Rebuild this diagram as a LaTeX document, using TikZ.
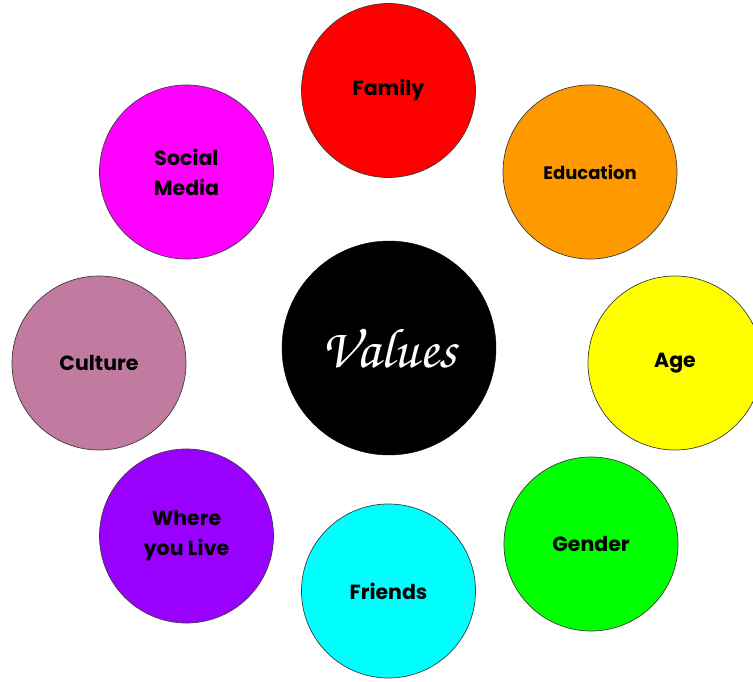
\documentclass[tikz,border=0pt]{standalone}
\usepackage{fontspec}
\setmainfont{Poppins}[BoldFont={* Bold}]
\newfontfamily\lbl{Poppins}[UprightFont={* Bold}]
\definecolor{cFamily}{HTML}{FF0000}
\definecolor{cEdu}{HTML}{FF9900}
\definecolor{cAge}{HTML}{FFFF00}
\definecolor{cGender}{HTML}{00FF00}
\definecolor{cFriends}{HTML}{00FFFF}
\definecolor{cWhere}{HTML}{9900FF}
\definecolor{cCulture}{HTML}{C27BA0}
\definecolor{cSocial}{HTML}{FF00FF}
\definecolor{rim}{HTML}{3C3C3C}
\tikzset{
  bubble/.style={circle, draw=rim, line width=0.7pt, minimum size=174pt, inner sep=0pt,
    align=center, font=\lbl\fontsize{20.5}{30}\selectfont, text=black},
  core/.style={circle, fill=black, draw=black, minimum size=214pt, inner sep=0pt,
    text=white, font=\fontencoding{OT1}\fontfamily{pzc}\fontseries{mb}\fontshape{it}\fontsize{56}{56}\selectfont}
}
\begin{document}
\begin{tikzpicture}[x=1pt,y=-1pt]
\useasboundingbox (0,0) rectangle (753,682);
\node[core] (values) at (389,348) {Values};
\node[bubble, fill=cFamily] (family) at (388.5,90.5) {Family};
\node[bubble, fill=cEdu, font=\lbl\fontsize{18}{22}\selectfont] (edu) at (590,172) {Education};
\node[bubble, fill=cAge] (age) at (675,363) {Age};
\node[bubble, fill=cGender] (gender) at (591,544) {Gender};
\node[bubble, fill=cFriends] (friends) at (388.5,591) {Friends};
\node[bubble, fill=cWhere] (where) at (186.5,536) {Where\\you Live};
\node[bubble, fill=cCulture] (culture) at (99,363) {Culture};
\node[bubble, fill=cSocial] (social) at (186.5,172) {Social\\Media};
\end{tikzpicture}
\end{document}
